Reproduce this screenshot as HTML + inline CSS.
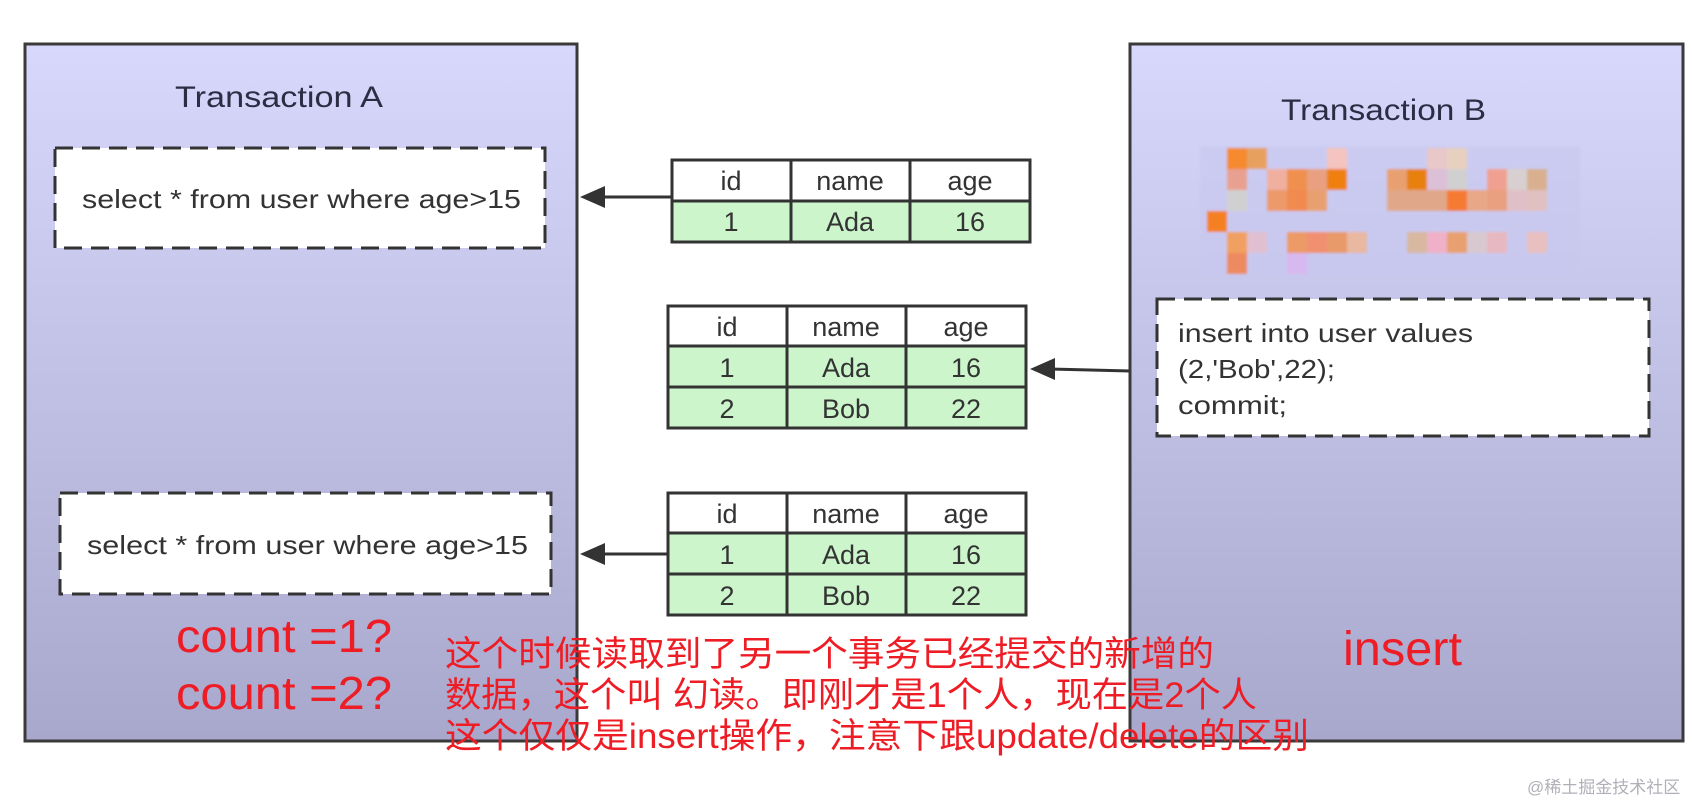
<!DOCTYPE html>
<html><head><meta charset="utf-8"><style>html,body{margin:0;padding:0;background:#fff}svg{display:block}</style></head>
<body>
<svg width="1692" height="804" viewBox="0 0 1692 804" xmlns="http://www.w3.org/2000/svg" font-family="'Liberation Sans','Noto Sans CJK SC',sans-serif">
<defs>
<linearGradient id="g" x1="0" y1="0" x2="0" y2="1">
<stop offset="0" stop-color="#d8d8fc"/><stop offset="1" stop-color="#a8a8cc"/>
</linearGradient>
<filter id="bl"><feGaussianBlur stdDeviation="1.2"/></filter>
</defs>
<rect x="25" y="44" width="552" height="697" fill="url(#g)" stroke="#3a3a3a" stroke-width="3"/>
<rect x="1130" y="44" width="553" height="697" fill="url(#g)" stroke="#3a3a3a" stroke-width="3"/>
<text x="175" y="107" font-size="30" fill="#2c2c44" textLength="208" lengthAdjust="spacingAndGlyphs">Transaction A</text>
<text x="1281" y="120" font-size="30" fill="#2c2c44" textLength="205" lengthAdjust="spacingAndGlyphs">Transaction B</text>

<g filter="url(#bl)">
<rect x="1200" y="146" width="380" height="130" fill="#c8c8f0" opacity="0.6"/>
<rect x="1227" y="148" width="20" height="21" fill="#f58a2e"/><rect x="1247" y="148" width="20" height="21" fill="#e8a060"/><rect x="1327" y="148" width="20" height="21" fill="#f5c4c0"/><rect x="1427" y="148" width="20" height="21" fill="#e8c8c8"/><rect x="1447" y="148" width="20" height="21" fill="#e8d0c0"/>
<rect x="1227" y="169" width="20" height="21" fill="#e8a090"/><rect x="1267" y="169" width="20" height="21" fill="#f0b0a0"/><rect x="1287" y="169" width="20" height="21" fill="#f09050"/><rect x="1307" y="169" width="20" height="21" fill="#e8a080"/><rect x="1327" y="169" width="20" height="21" fill="#f08010"/><rect x="1387" y="169" width="20" height="21" fill="#e8a070"/><rect x="1407" y="169" width="20" height="21" fill="#e88010"/><rect x="1427" y="169" width="20" height="21" fill="#dcc0d8"/><rect x="1447" y="169" width="20" height="21" fill="#d0d0d0"/><rect x="1487" y="169" width="20" height="21" fill="#f0a090"/><rect x="1507" y="169" width="20" height="21" fill="#d8d0d0"/><rect x="1527" y="169" width="20" height="21" fill="#d8b090"/>
<rect x="1227" y="190" width="20" height="21" fill="#d0d0d0"/><rect x="1267" y="190" width="20" height="21" fill="#ec9a6a"/><rect x="1287" y="190" width="20" height="21" fill="#f08a50"/><rect x="1307" y="190" width="20" height="21" fill="#e8a070"/><rect x="1387" y="190" width="80" height="21" fill="#e0a888"/><rect x="1447" y="190" width="20" height="21" fill="#f57a30"/><rect x="1467" y="190" width="20" height="21" fill="#e8a888"/><rect x="1487" y="190" width="20" height="21" fill="#e8a080"/><rect x="1507" y="190" width="20" height="21" fill="#e0c0c8"/><rect x="1527" y="190" width="20" height="21" fill="#e0c0c0"/>
<rect x="1207" y="211" width="20" height="21" fill="#f58020"/>
<rect x="1227" y="232" width="20" height="21" fill="#f0a060"/><rect x="1247" y="232" width="20" height="21" fill="#e0c0d0"/><rect x="1287" y="232" width="20" height="21" fill="#ec9a66"/><rect x="1307" y="232" width="20" height="21" fill="#f09070"/><rect x="1327" y="232" width="20" height="21" fill="#e89a6a"/><rect x="1347" y="232" width="20" height="21" fill="#e8b8a0"/><rect x="1407" y="232" width="20" height="21" fill="#d8b8a0"/><rect x="1427" y="232" width="20" height="21" fill="#f0b0c8"/><rect x="1447" y="232" width="20" height="21" fill="#e8a070"/><rect x="1467" y="232" width="20" height="21" fill="#d8c8d0"/><rect x="1487" y="232" width="20" height="21" fill="#e8b8c0"/><rect x="1527" y="232" width="20" height="21" fill="#e8c0c0"/>
<rect x="1227" y="253" width="20" height="21" fill="#ee8a60"/><rect x="1287" y="253" width="20" height="21" fill="#d8b8f0"/>
</g>

<g fill="#fff" stroke="#333" stroke-width="3" stroke-dasharray="18,9">
<rect x="55" y="148" width="490" height="100"/>
<rect x="60" y="493" width="491" height="101"/>
<rect x="1157" y="299" width="492" height="137"/>
</g>
<g font-size="26" fill="#333">
<text x="82" y="208" textLength="439" lengthAdjust="spacingAndGlyphs">select * from user where age&gt;15</text>
<text x="87" y="554" textLength="441" lengthAdjust="spacingAndGlyphs">select * from user where age&gt;15</text>
<text x="1178" y="342" textLength="295" lengthAdjust="spacingAndGlyphs">insert into user values</text>
<text x="1178" y="378" textLength="157" lengthAdjust="spacingAndGlyphs">(2,'Bob',22);</text>
<text x="1178" y="414" textLength="109" lengthAdjust="spacingAndGlyphs">commit;</text>
</g>

<g stroke="#333" stroke-width="3">
<rect x="672" y="160" width="358" height="41" fill="#fff"/>
<rect x="672" y="201" width="358" height="41" fill="#ccf5cc"/>
<line x1="791" y1="160" x2="791" y2="242"/><line x1="910" y1="160" x2="910" y2="242"/>
<rect x="668" y="306" width="358" height="40" fill="#fff"/>
<rect x="668" y="346" width="358" height="82" fill="#ccf5cc"/>
<line x1="668" y1="387" x2="1026" y2="387"/>
<line x1="787" y1="306" x2="787" y2="428"/><line x1="906" y1="306" x2="906" y2="428"/>
<rect x="668" y="493" width="358" height="40" fill="#fff"/>
<rect x="668" y="533" width="358" height="82" fill="#ccf5cc"/>
<line x1="668" y1="574" x2="1026" y2="574"/>
<line x1="787" y1="493" x2="787" y2="615"/><line x1="906" y1="493" x2="906" y2="615"/>
</g>
<g font-size="27" fill="#333" text-anchor="middle">
<text x="731" y="190">id</text><text x="850" y="190">name</text><text x="970" y="190">age</text>
<text x="731" y="231">1</text><text x="850" y="231">Ada</text><text x="970" y="231">16</text>
<text x="727" y="336">id</text><text x="846" y="336">name</text><text x="966" y="336">age</text>
<text x="727" y="377">1</text><text x="846" y="377">Ada</text><text x="966" y="377">16</text>
<text x="727" y="418">2</text><text x="846" y="418">Bob</text><text x="966" y="418">22</text>
<text x="727" y="523">id</text><text x="846" y="523">name</text><text x="966" y="523">age</text>
<text x="727" y="564">1</text><text x="846" y="564">Ada</text><text x="966" y="564">16</text>
<text x="727" y="605">2</text><text x="846" y="605">Bob</text><text x="966" y="605">22</text>
</g>

<g stroke="#333" stroke-width="3" fill="none">
<line x1="671" y1="197" x2="600" y2="197"/>
<line x1="1130" y1="371" x2="1050" y2="369"/>
<line x1="667" y1="554" x2="600" y2="554"/>
</g>
<g fill="#333">
<path d="M580,197 L605,186 L605,208 Z"/>
<path d="M1030,369 L1055,358 L1055,380 Z"/>
<path d="M580,554 L605,543 L605,565 Z"/>
</g>

<g fill="#ee1c24">
<text x="176" y="652" font-size="46" textLength="216" lengthAdjust="spacingAndGlyphs">count =1?</text>
<text x="176" y="709" font-size="46" textLength="216" lengthAdjust="spacingAndGlyphs">count =2?</text>
<text x="1343" y="665" font-size="48" textLength="119" lengthAdjust="spacingAndGlyphs">insert</text>
<g font-size="35">
<text x="445" y="666" textLength="769" lengthAdjust="spacingAndGlyphs">这个时候读取到了另一个事务已经提交的新增的</text>
<text x="445" y="707" textLength="812" lengthAdjust="spacingAndGlyphs">数据，这个叫 幻读。即刚才是1个人，现在是2个人</text>
<text x="445" y="748" textLength="864" lengthAdjust="spacingAndGlyphs">这个仅仅是insert操作，注意下跟update/delete的区别</text>
</g>
</g>
<text x="1527" y="793" font-size="17" fill="#b0b0b8">@稀土掘金技术社区</text>
</svg>
</body></html>
